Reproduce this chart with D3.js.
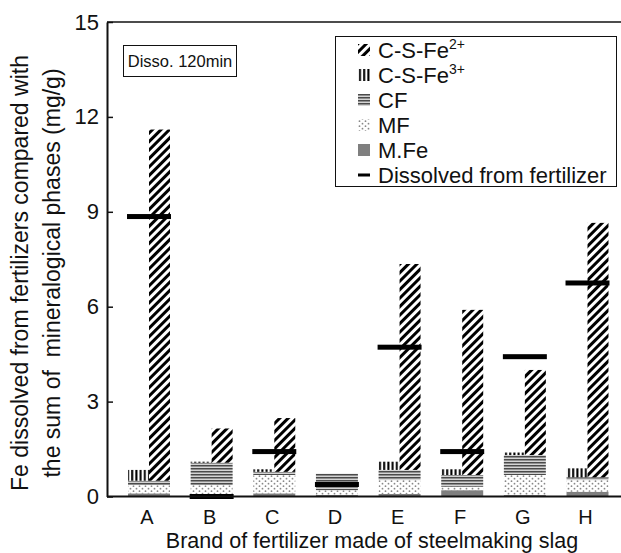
<!DOCTYPE html>
<html>
<head>
<meta charset="utf-8">
<script src="https://cdn.jsdelivr.net/npm/d3@7"></script>
<style>
  body { margin: 0; background: #fff; }
  svg { display: block; }
  text { font-family: "Liberation Sans", Arial, sans-serif; fill: #111; }
</style>
</head>
<body>
<svg id="chart" width="621" height="553"></svg>
<script>
// values (mg/g), one entry per brand
const brands    = ["A", "B", "C", "D", "E", "F", "G", "H"];
const mFe       = [0.10, 0.05, 0.10, 0.05, 0.08, 0.20, 0.05, 0.15];
const mf        = [0.26, 0.31, 0.58, 0.15, 0.44, 0.11, 0.63, 0.37];
const cf        = [0.14, 0.71, 0.10, 0.52, 0.32, 0.37, 0.63, 0.09];
const csFe3     = [0.34, 0.03, 0.08, 0.00, 0.26, 0.18, 0.08, 0.28];
const csFe2     = [11.10, 1.08, 1.70, 0.00, 6.51, 5.22, 2.69, 8.04];
const dissolved = [8.85, 0.00, 1.42, 0.38, 4.72, 1.42, 4.42, 6.75];
const yTicks    = [0, 3, 6, 9, 12, 15];

const svg = d3.select("#chart");
const W = 621;
const axisX = 107, yBase = 496.5, yTop = 22;

const x = d3.scalePoint().domain(brands).range([149, 587.5]);
const y = d3.scaleLinear().domain([0, 15]).range([yBase, yTop]);
const barW = x.step() * 0.67;

// ----- fill patterns -----
const defs = svg.append("defs");

const pDiag = defs.append("pattern").attr("id", "pDiag")
  .attr("patternUnits", "userSpaceOnUse").attr("width", 6).attr("height", 6)
  .attr("patternTransform", "rotate(45)");
pDiag.append("rect").attr("width", 6).attr("height", 6).attr("fill", "#fff");
pDiag.append("rect").attr("width", 3).attr("height", 6).attr("fill", "#000");

const pVert = defs.append("pattern").attr("id", "pVert")
  .attr("patternUnits", "userSpaceOnUse").attr("width", 4.2).attr("height", 4);
pVert.append("rect").attr("width", 4.2).attr("height", 4).attr("fill", "#fff");
pVert.append("rect").attr("x", 1).attr("width", 2).attr("height", 4).attr("fill", "#000");

const pHorz = defs.append("pattern").attr("id", "pHorz")
  .attr("patternUnits", "userSpaceOnUse").attr("width", 4).attr("height", 3);
pHorz.append("rect").attr("width", 4).attr("height", 3).attr("fill", "#d4d4d4");
pHorz.append("rect").attr("width", 4).attr("height", 1.5).attr("fill", "#4a4a4a");

const pDots = defs.append("pattern").attr("id", "pDots")
  .attr("patternUnits", "userSpaceOnUse").attr("width", 6).attr("height", 5);
pDots.append("rect").attr("width", 6).attr("height", 5).attr("fill", "#fff");
pDots.append("circle").attr("cx", 1.5).attr("cy", 1.2).attr("r", 0.9).attr("fill", "#888");
pDots.append("circle").attr("cx", 4.5).attr("cy", 3.7).attr("r", 0.9).attr("fill", "#888");

const fills = {
  mFe: "#7f7f7f",
  mf: "url(#pDots)",
  cf: "url(#pHorz)",
  csFe3: "url(#pVert)",
  csFe2: "url(#pDiag)"
};

// ----- bars -----
const rows = brands.map((b, i) => ({
  brand: b, mFe: mFe[i], mf: mf[i], cf: cf[i],
  csFe3: csFe3[i], csFe2: csFe2[i], dissolved: dissolved[i]
}));

const stack = d3.stack().keys(["mFe", "mf", "cf"]);
const series = stack(rows);

const gBars = svg.append("g");
series.forEach(s => {
  gBars.selectAll(null).data(s).enter().append("rect")
    .attr("x", d => x(d.data.brand) - barW / 2)
    .attr("width", barW)
    .attr("y", d => y(d[1]))
    .attr("height", d => Math.max(0, y(d[0]) - y(d[1])))
    .attr("fill", fills[s.key]);
});

const cfTop = d => d.mFe + d.mf + d.cf;

// C-S-Fe3+ on the left half, C-S-Fe2+ on the right half
gBars.selectAll(null).data(rows).enter().append("rect")
  .attr("x", d => x(d.brand) - barW / 2)
  .attr("width", barW / 2)
  .attr("y", d => y(cfTop(d) + d.csFe3))
  .attr("height", d => y(cfTop(d)) - y(cfTop(d) + d.csFe3))
  .attr("fill", fills.csFe3);

gBars.selectAll(null).data(rows).enter().append("rect")
  .attr("x", d => x(d.brand))
  .attr("width", barW / 2)
  .attr("y", d => y(cfTop(d) + d.csFe2))
  .attr("height", d => y(cfTop(d)) - y(cfTop(d) + d.csFe2))
  .attr("fill", fills.csFe2);

// dissolved from fertilizer
gBars.selectAll(null).data(rows).enter().append("rect")
  .attr("x", d => x(d.brand) - barW / 2 - 1)
  .attr("width", barW + 2)
  .attr("y", d => y(d.dissolved) - 2.5)
  .attr("height", 5)
  .attr("fill", "#000");

// ----- axes -----
const yAxis = d3.axisLeft(y).tickValues(yTicks).tickSizeInner(-6).tickSizeOuter(0).tickPadding(8);
const gy = svg.append("g").attr("transform", `translate(${axisX},0)`).call(yAxis);
gy.select(".domain").attr("stroke", "#111").attr("stroke-width", 2);
gy.selectAll(".tick line").attr("stroke", "#111").attr("stroke-width", 1.5);
gy.selectAll(".tick text").style("font-size", "22px").attr("fill", "#111")
  .style("font-family", "'Liberation Sans', Arial, sans-serif");

svg.append("line").attr("x1", axisX).attr("x2", W).attr("y1", yBase).attr("y2", yBase)
  .attr("stroke", "#111").attr("stroke-width", 2);
svg.append("line").attr("x1", axisX).attr("x2", W).attr("y1", yTop).attr("y2", yTop)
  .attr("stroke", "#111").attr("stroke-width", 1.5);

svg.selectAll(null).data(brands).enter().append("text")
  .attr("x", d => x(d) - 2).attr("y", 524)
  .attr("text-anchor", "middle").style("font-size", "20px")
  .text(d => d);

svg.append("text").attr("x", 372).attr("y", 548).attr("text-anchor", "middle")
  .style("font-size", "21.5px").text("Brand of fertilizer made of steelmaking slag");

const yTitle = svg.append("text").attr("transform", "translate(0,273) rotate(-90)")
  .attr("text-anchor", "middle").style("font-size", "23px");
yTitle.append("tspan").attr("x", 0).attr("y", 28).text("Fe dissolved from fertilizers compared with");
yTitle.append("tspan").attr("x", 0).attr("y", 60).attr("xml:space", "preserve")
  .text("the sum of  mineralogical phases (mg/g)");

// ----- annotation box -----
svg.append("rect").attr("x", 123.5).attr("y", 45.5).attr("width", 113).attr("height", 31)
  .attr("fill", "#fff").attr("stroke", "#111").attr("stroke-width", 1);
svg.append("text").attr("x", 180).attr("y", 67).attr("text-anchor", "middle")
  .style("font-size", "16.5px").text("Disso. 120min");

// ----- legend -----
const legendItems = [
  { key: "csFe2", base: "C-S-Fe", sup: "2+" },
  { key: "csFe3", base: "C-S-Fe", sup: "3+" },
  { key: "cf", base: "CF" },
  { key: "mf", base: "MF" },
  { key: "mFe", base: "M.Fe" },
  { key: "dissolved", base: "Dissolved from fertilizer" }
];

const gLeg = svg.append("g");
gLeg.append("rect").attr("x", 335.5).attr("y", 36.5).attr("width", 281).attr("height", 150)
  .attr("fill", "#fff").attr("stroke", "#111").attr("stroke-width", 1);

const li = gLeg.selectAll(null).data(legendItems).enter().append("g")
  .attr("transform", (d, i) => `translate(358,${50 + i * 25})`);

li.append("rect")
  .attr("x", 0)
  .attr("y", d => d.key === "dissolved" ? -1.5 : -6)
  .attr("width", 12)
  .attr("height", d => d.key === "dissolved" ? 3 : 12)
  .attr("fill", d => d.key === "dissolved" ? "#000" : fills[d.key]);

const lt = li.append("text").attr("x", 20).attr("y", 8).style("font-size", "22px");
lt.append("tspan").text(d => d.base);
lt.filter(d => d.sup).append("tspan").attr("dy", -9).style("font-size", "14px").text(d => d.sup);
</script>
</body>
</html>
